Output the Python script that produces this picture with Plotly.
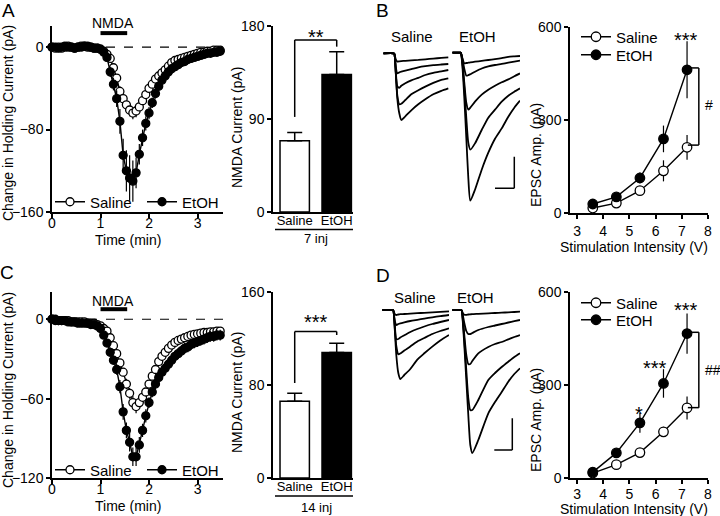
import plotly.graph_objects as go

W, H = 720, 516
FONT = "Liberation Sans, Arial, sans-serif"

# ---------------- data ----------------
time_min = [round(k / 15, 4) for k in range(53)]  # 4-s sampling grid (min)

A_saline = [0, -1, 0, -1, 0, 1, 0, -1, 0, 1, 1, 0, 0, -1, -1,
            -2, -4, -7, -11, -20, -30, -43, -50, -56, -61, -64, -62, -58, -52, -46,
            -40, -36, -31, -28, -25, -22, -18.5, -15, -13, -12, -11, -10, -9, -8, -7,
            -6, -5, -5, -4, -4, -3, -3, -3]
A_saline_err = [2] * 17 + [3, 3, 4, 4, 5, 5, 5, 6, 6, 6, 5, 4, 4, 3, 3, 3, 3, 3] + [2] * 18
A_etoh = [0, 0, -1, 0, 1, 0, 0, -1, 0, 0, 1, 1, 0, -1, -1,
          -2, -5, -10, -24, -36, -50, -72, -105, -120, -127, -130, -122, -104, -88, -74,
          -64, -54, -45, -38, -32, -28, -24, -21, -19, -17, -15, -14, -12, -11, -10,
          -9, -8, -7, -6, -6, -5, -5, -4]
A_etoh_err = [2] * 16 + [3, 4, 5, 6, 8, 12, 16, 20, 22, 20, 15, 10, 8, 7, 6, 5, 5, 4, 4, 4] + [3] * 17

C_saline = [0, 0, -1, -1, -1, -1, -2, -2, -2, -2, -2, -3, -3, -3, -4,
            -5, -7, -9, -14, -20, -26, -33, -40, -49, -56, -63, -66, -63, -59, -55,
            -49, -43, -38, -32, -28, -25, -22, -19.5, -17.5, -16, -15, -14, -13, -12, -11.5,
            -11, -10.5, -10, -10, -9.5, -9.5, -9, -9]
C_saline_err = [1.5] * 15 + [2, 2, 2, 2, 3, 3, 3, 3, 4, 4, 5, 5, 4, 4, 3, 3, 3, 3] + [2] * 20
C_etoh = [0, -1, -1, -1, -1, -2, -2, -2, -3, -3, -3, -3, -4, -4, -5,
          -7, -12, -18, -25, -31, -38, -51, -70, -84, -93, -104, -104, -95, -84, -73,
          -63, -55, -49, -44, -40, -37, -34, -31, -28, -26, -24, -22, -21, -19, -18,
          -17, -16, -15, -14, -13, -13, -12, -12]
C_etoh_err = [1.5] * 15 + [2, 2, 3, 3, 3, 4, 5, 6, 6, 7, 7, 7, 6, 5, 5] + [4] * 23

nmda_period = [1.0, 1.55]

bar_groups = ["Saline", "EtOH"]
A_bar_mean = [69, 133]
A_bar_err = [8, 22]
C_bar_mean = [66, 108]
C_bar_err = [7, 8]

stim_V = [3.6, 4.5, 5.4, 6.3, 7.2]
B_saline = [16, 32, 72, 136, 212]
B_saline_err = [5, 6, 12, 34, 40]
B_etoh = [29, 52, 113, 239, 462]
B_etoh_err = [6, 8, 18, 43, 92]
D_saline = [16, 43, 82, 149, 226]
D_saline_err = [5, 8, 10, 16, 37]
D_etoh = [19, 81, 178, 305, 466]
D_etoh_err = [6, 10, 32, 46, 65]

# example EPSC waveforms (arbitrary units, time from sweep start)
B_sal_t = [0, 10, 11, 12.5, 14, 16, 18, 22, 28, 35, 42, 50, 58, 65]
B_sal_traces = [
    [0, 0, -0.5, -6, -8.3, -8, -7.8, -7.5, -7, -6.6, -6, -5.3, -4.6, -4],
    [0, 0, -0.5, -14, -20, -19, -18.3, -17.3, -15.8, -14, -12.8, -11.8, -11.2, -10.7],
    [0, 0, -0.5, -18, -33, -34.5, -32.5, -30, -27, -24.5, -21.7, -19.5, -18, -16.7],
    [0, 0, -0.5, -20, -42, -51, -50.5, -46.7, -41, -37, -33.3, -29.5, -26.5, -25],
    [0, 0, -0.5, -20, -45, -60, -66.7, -63, -57, -51, -46, -41, -37.5, -35],
]
B_eth_t = [0, 8, 8.7, 10, 12, 14, 16, 18, 22.7, 29.4, 36, 42.7, 49.4, 56, 62, 67.7]
B_eth_traces = [
    [0, 0, -0.5, -5, -10.7, -10.3, -10, -9.7, -9, -8.2, -7.3, -6.5, -5.5, -4.2, -3.7, -3.3],
    [0, 0, -0.5, -6, -16, -23, -22.5, -21.5, -19, -15.8, -13.7, -12.3, -11.2, -10, -9, -8],
    [0, 0, -0.5, -8, -30, -50, -57, -55, -49, -42, -37, -33, -29.5, -26.7, -23.5, -20.7],
    [0, 0, -0.5, -10, -35, -65, -90, -97, -90.7, -77.3, -65, -57, -49, -43, -39, -35.7],
    [0, 0, -0.5, -12, -45, -85, -125, -148, -137, -117, -100, -86, -75.7, -64, -55, -48],
]
D_sal_t = [0, 10, 11, 12.5, 14, 16, 18, 22, 28, 35, 42, 50, 58, 66.7]
D_sal_traces = [
    [0, 0, -0.5, -4, -5, -4.5, -4.2, -4, -3.6, -3.2, -2.8, -2.3, -1.8, -1.3],
    [0, 0, -0.5, -11, -15, -14, -13.3, -12.3, -11, -9.8, -8.6, -7.3, -6.1, -5],
    [0, 0, -0.5, -15, -29, -29, -27.5, -25.3, -22, -19, -16.5, -14, -12, -10],
    [0, 0, -0.5, -18, -36, -44.3, -43.5, -40.5, -36.5, -31.5, -28, -24, -21, -18.3],
    [0, 0, -0.5, -20, -45, -63, -69, -65, -59, -49.6, -43.3, -36.6, -30.5, -25],
]
D_eth_t = [0, 8.5, 9.4, 10.5, 12, 14, 16, 18, 20, 26, 36, 42.7, 49.4, 56, 62, 67.7]
D_eth_traces = [
    [0, 0, -0.5, -3, -4.8, -4.8, -4.5, -4.3, -4.1, -3.8, -3.3, -3, -2.7, -2.3, -2, -1.7],
    [0, 0, -0.5, -5, -13, -21, -24, -24, -23, -20, -17, -15.5, -14, -12.5, -11.2, -10],
    [0, 0, -0.5, -8, -25, -45, -54, -54, -51, -43.3, -37, -34, -32, -29.3, -27, -25],
    [0, 0, -0.5, -10, -30, -60, -88, -100, -100, -90, -70, -63, -57, -51.7, -47, -43.3],
    [0, 0, -0.5, -12, -35, -70, -105, -135, -143, -130, -103.3, -92, -82, -71.7, -64, -58.3],
]

# ---------------- helpers ----------------
def fx(p):
    return p / W


def fy(p):
    return 1 - p / H


def xdom(a, b):
    return [fx(a), fx(b)]


def ydom(top, bot):
    return [fy(bot), fy(top)]


def sfx(n):
    return "" if n == 1 else str(n)


fig = go.Figure()
layout = dict(width=W, height=H, margin=dict(l=0, r=0, t=0, b=0, autoexpand=False),
              paper_bgcolor="white", plot_bgcolor="rgba(0,0,0,0)",
              font=dict(family=FONT, size=14, color="black"), showlegend=True)

axstyle = dict(showline=True, linecolor="black", linewidth=1.5, ticks="outside",
               ticklen=4, tickwidth=1.5, tickcolor="black", showgrid=False, zeroline=False,
               tickfont=dict(family=FONT, size=14, color="black"), fixedrange=True,
               automargin=False)


def add_axes(n, xd, xr, yd, yr, xkw=None, ykw=None, visible=True):
    xa = dict(domain=xd, range=xr, anchor="y" + sfx(n))
    ya = dict(domain=yd, range=yr, anchor="x" + sfx(n))
    if visible:
        xa.update(axstyle)
        ya.update(axstyle)
    else:
        xa.update(visible=False, fixedrange=True)
        ya.update(visible=False, fixedrange=True)
    if xkw:
        xa.update(xkw)
    if ykw:
        ya.update(ykw)
    layout["xaxis" + sfx(n)] = xa
    layout["yaxis" + sfx(n)] = ya


tc_x = dict(tickvals=[0, 1, 2, 3], ticklabelstandoff=-7)
bar_x = dict(tickvals=[0, 1], ticktext=bar_groups, ticks="", ticklen=0, ticklabelstandoff=-4,
             tickfont=dict(size=13, family=FONT, color="black"))

# panel A
add_axes(1, xdom(52, 223), [0, 3.525], ydom(26, 212), [-160, 20.5],
         xkw=tc_x, ykw=dict(tickvals=[0, -80, -160]))
add_axes(2, xdom(273, 353), [-0.517, 1.388], ydom(26, 212), [0, 180],
         xkw=bar_x, ykw=dict(tickvals=[0, 90, 180]))
add_axes(3, xdom(570, 708), [2.73, 8.0], ydom(27, 213), [0, 600],
         xkw=dict(tickvals=[3, 4, 5, 6, 7, 8]), ykw=dict(tickvals=[0, 300, 600]))
add_axes(4, xdom(383.3, 449), [0, 65.7], ydom(40, 215), [-(215 - 53.3), 53.3 - 40], visible=False)
add_axes(5, xdom(452.3, 520), [0, 67.7], ydom(40, 215), [-(215 - 52.7), 52.7 - 40], visible=False)
# panel C
add_axes(6, xdom(52, 223), [0, 3.525], ydom(292, 478), [-120, 20.6],
         xkw=tc_x, ykw=dict(tickvals=[0, -60, -120]))
add_axes(7, xdom(273, 353), [-0.517, 1.388], ydom(292, 478), [0, 160],
         xkw=bar_x, ykw=dict(tickvals=[0, 80, 160]))
add_axes(8, xdom(570, 708), [2.73, 8.0], ydom(292, 478), [0, 600],
         xkw=dict(tickvals=[3, 4, 5, 6, 7, 8], ticklabelstandoff=-2), ykw=dict(tickvals=[0, 300, 600]))
add_axes(9, xdom(382.3, 449), [0, 66.7], ydom(300, 478), [-168, 10], visible=False)
add_axes(10, xdom(452.3, 520), [0, 67.7], ydom(300, 478), [-168, 10], visible=False)


def series(n, x, y, err, filled, name, leg, msize):
    fig.add_trace(go.Scatter(
        x=x, y=y, mode="lines+markers", name=name, legend=leg,
        xaxis="x" + sfx(n), yaxis="y" + sfx(n), cliponaxis=False,
        line=dict(color="black", width=1.4),
        marker=dict(symbol="circle", size=msize, color="black" if filled else "white",
                    line=dict(color="black", width=1.3)),
        error_y=dict(type="data", array=err, color="black", thickness=1.2, width=0),
        hoverinfo="skip"))


# time courses
series(1, time_min, A_saline, A_saline_err, False, "Saline", "legend", 8)
series(1, time_min, A_etoh, A_etoh_err, True, "EtOH", "legend2", 8)
series(6, time_min, C_saline, C_saline_err, False, "Saline", "legend5", 8)
series(6, time_min, C_etoh, C_etoh_err, True, "EtOH", "legend6", 8)
# input-output curves
series(3, stim_V, B_saline, B_saline_err, False, "Saline", "legend3", 9.5)
series(3, stim_V, B_etoh, B_etoh_err, True, "EtOH", "legend4", 9.5)
series(8, stim_V, D_saline, D_saline_err, False, "Saline", "legend7", 9.5)
series(8, stim_V, D_etoh, D_etoh_err, True, "EtOH", "legend8", 9.5)


def bars(n, means, errs):
    for i, (m, e) in enumerate(zip(means, errs)):
        fig.add_trace(go.Bar(
            x=[i], y=[m], width=0.7, showlegend=False, xaxis="x" + sfx(n), yaxis="y" + sfx(n),
            marker=dict(color="white" if i == 0 else "black", line=dict(color="black", width=1.5)),
            error_y=dict(type="data", symmetric=False, array=[e], arrayminus=[0],
                         color="black", thickness=1.5, width=7.5),
            hoverinfo="skip"))


bars(2, A_bar_mean, A_bar_err)
bars(7, C_bar_mean, C_bar_err)


def waves(n, t, traces):
    for tr in traces:
        fig.add_trace(go.Scatter(
            x=t, y=tr, mode="lines", showlegend=False, xaxis="x" + sfx(n), yaxis="y" + sfx(n),
            line=dict(color="black", width=1.8, shape="spline", smoothing=0.6),
            cliponaxis=False, hoverinfo="skip"))


waves(4, B_sal_t, B_sal_traces)
waves(5, B_eth_t, B_eth_traces)
waves(9, D_sal_t, D_sal_traces)
waves(10, D_eth_t, D_eth_traces)

# ---------------- legends ----------------
def leg(xp, yp):
    return dict(x=fx(xp), y=fy(yp), xanchor="left", yanchor="middle", orientation="h",
                font=dict(family=FONT, size=15, color="black"), bgcolor="rgba(0,0,0,0)",
                borderwidth=0, itemclick=False, itemdoubleclick=False)


layout["legend"] = leg(50, 202)
layout["legend2"] = leg(142, 202)
layout["legend3"] = leg(576, 37)
layout["legend4"] = leg(576, 55)
layout["legend5"] = leg(50, 470)
layout["legend6"] = leg(142, 470)
layout["legend7"] = leg(576, 303)
layout["legend8"] = leg(576, 320)

# ---------------- shapes ----------------
shapes = []


def line(n, x0, y0, x1, y1, width=1.5, dash=None):
    d = dict(type="line", xref="x" + sfx(n), yref="y" + sfx(n), x0=x0, y0=y0, x1=x1, y1=y1,
             line=dict(color="black", width=width))
    if dash:
        d["line"]["dash"] = dash
    shapes.append(d)


def pline(x0, y0, x1, y1, width=1.5):
    shapes.append(dict(type="line", xref="paper", yref="paper", x0=fx(x0), y0=fy(y0),
                       x1=fx(x1), y1=fy(y1), line=dict(color="black", width=width)))


# zero lines and NMDA application bars
line(1, 0, 0, 3.525, 0, width=1.2, dash="dash")
line(6, 0, 0, 3.525, 0, width=1.2, dash="dash")
line(1, nmda_period[0], 13.6, nmda_period[1], 13.6, width=4)
line(6, nmda_period[0], 7.6, nmda_period[1], 7.6, width=4)
# significance brackets on bars
line(2, 0, 92, 0, 166.5)
line(2, 0, 166.5, 1, 166.5)
line(2, 1, 166.5, 1, 160)
line(7, 0, 81.7, 0, 126)
line(7, 0, 126, 1, 126)
line(7, 1, 126, 1, 123)
# group underline
pline(275, 229.5, 353, 229.5)
pline(275, 496, 353, 496)
# hash brackets on I/O curves
line(3, 7.23, 468, 7.65, 468)
line(3, 7.65, 468, 7.65, 219)
line(3, 7.65, 219, 7.23, 219)
line(8, 7.23, 470, 7.65, 470)
line(8, 7.65, 470, 7.65, 227)
line(8, 7.65, 227, 7.23, 227)
# scale bars
line(5, 62, -104, 62, -135.6)
line(5, 42.7, -135.6, 62, -135.6)
line(10, 60, -108.3, 60, -140)
line(10, 42, -140, 60, -140)

layout["shapes"] = shapes

# ---------------- annotations ----------------
ann = []


def text(t, xp, yp, size=14, angle=0, xanchor="center"):
    ann.append(dict(text=t, x=fx(xp), y=fy(yp), xref="paper", yref="paper", showarrow=False,
                    xanchor=xanchor, yanchor="middle", textangle=angle,
                    font=dict(family=FONT, size=size, color="black")))


text("A", 8, 10, size=19)
text("B", 382, 10, size=19)
text("C", 7, 272, size=19)
text("D", 383, 275, size=19)
text("NMDA", 113, 23)
text("NMDA", 113, 301)
text("Change in Holding Current (pA)", 8, 123, angle=-90)
text("Change in Holding Current (pA)", 8, 390, angle=-90)
text("Time (min)", 128, 240)
text("Time (min)", 128, 506)
text("NMDA Current (pA)", 237, 128, angle=-90)
text("NMDA Current (pA)", 237, 393, angle=-90)
text("7 inj", 316, 239, size=13)
text("14 inj", 316, 507, size=13)
text("EPSC Amp. (pA)", 536, 155, angle=-90)
text("EPSC Amp. (pA)", 536, 420, angle=-90)
text("Stimulation Intensity (V)", 634, 247)
text("Stimulation Intensity (V)", 634, 509)
text("Saline", 412, 36, size=15)
text("EtOH", 477, 36, size=15)
text("Saline", 415, 297, size=15)
text("EtOH", 475, 297, size=15)
text("**", 316, 37, size=20)
text("***", 316, 322, size=20)
text("***", 686, 40, size=20)
text("***", 686, 310, size=20)
text("***", 655, 368, size=20)
text("*", 639, 414, size=20)
text("#", 709, 105)
text("##", 713, 370)

layout["annotations"] = ann
fig.update_layout(**layout)
fig.write_html("out.html", config={"displayModeBar": False, "responsive": False},
               post_script="document.body.style.margin='0px';document.body.style.padding='0px';")
